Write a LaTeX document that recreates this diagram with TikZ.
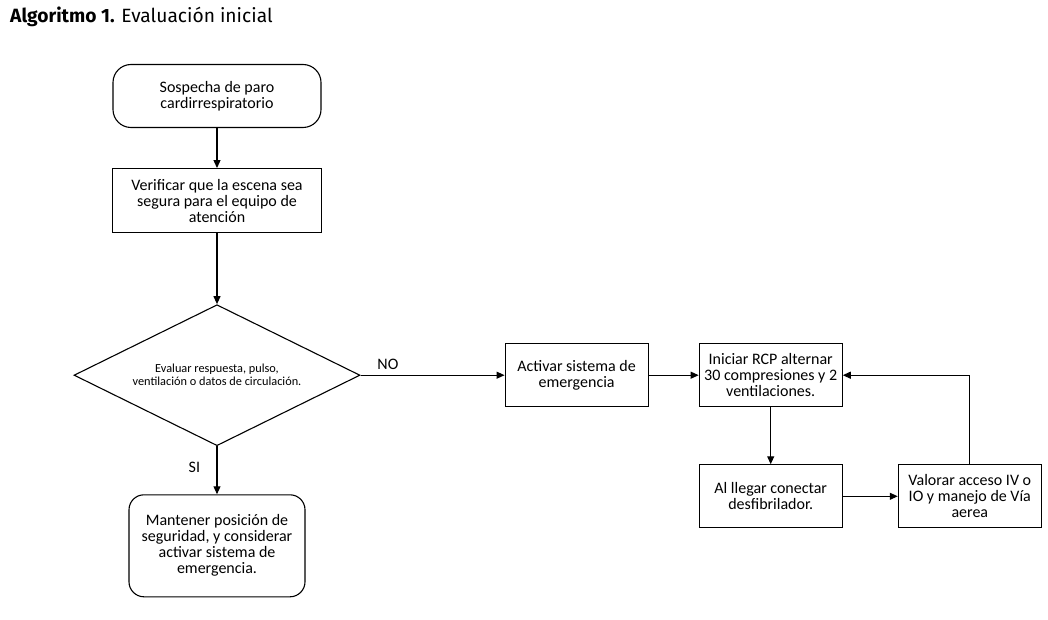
\documentclass[tikz,border=0pt]{standalone}
\usepackage{fontspec}
\setmainfont{Carlito}
\newfontfamily\titlefont{Fira Sans}
\usetikzlibrary{shapes.geometric, arrows.meta, positioning}
\tikzset{
  startbox/.style={
    draw=black,
    line width=1.1pt,
    rounded corners=18pt,
    align=center,
    font=\fontsize{16}{16}\selectfont,
    inner sep=3pt
  },
  procbox/.style={
    draw=black,
    line width=1.1pt,
    align=center,
    font=\fontsize{16}{16}\selectfont,
    inner sep=3pt
  },
  decision/.style={
    diamond,
    draw=black,
    line width=1.1pt,
    aspect=2,
    align=center,
    inner sep=0pt,
    minimum width=286pt,
    minimum height=141pt,
    font=\fontsize{12.3}{13}\selectfont
  },
  flowarrow/.style={
    -{Triangle[length=8pt, width=7pt]},
    line width=1.1pt
  },
  flowlabel/.style={
    font=\fontsize{16}{18}\selectfont
  }
}

\begin{document}
\begin{tikzpicture}[x=1pt, y=-1pt]

  \useasboundingbox (0,0) rectangle (1048,620);

  % Title
  \node (title) [anchor=west, inner sep=0pt, font=\titlefont\fontsize{19.2}{21}\selectfont] at (10,17) {\textbf{Algoritmo 1.} Evaluación inicial};

  % Main column
  \node (start) [startbox, minimum width=208pt, minimum height=63pt] at (217,96) {Sospecha de paro\\cardirrespiratorio};

  \node (verify) [procbox, minimum width=209pt, minimum height=64pt, below=40pt of start] {Verificar que la escena sea\\segura para el equipo de\\atención};

  \node (dec) [decision, below=71pt of verify] {Evaluar respuesta, pulso,\\ventilación o datos de circulación.};

  \node (safe) [startbox, rounded corners=15pt, minimum width=176pt, minimum height=102pt, below=48pt of dec] {Mantener posición de\\seguridad, y considerar\\activar sistema de\\emergencia.};

  % Right branch
  \node (alarm) [procbox, minimum width=143pt, minimum height=63pt, right=144pt of dec] {Activar sistema de\\emergencia};

  \node (cpr) [procbox, minimum width=143pt, minimum height=63pt, right=50pt of alarm] {Iniciar RCP alternar\\30 compresiones y 2\\ventilaciones.};

  \node (aed) [procbox, minimum width=143pt, minimum height=63pt, below=57pt of cpr] {Al llegar conectar\\desfibrilador.};

  \node (airway) [procbox, minimum width=143pt, minimum height=63pt, right=55pt of aed] {Valorar acceso IV o\\IO y manejo de Vía\\aerea};

  % Connectors
  \draw [flowarrow] (start) -- (verify);
  \draw [flowarrow] (verify) -- (dec);
  \draw [flowarrow] (dec.south) -- node [flowlabel, left=13pt, pos=0.45] {SI} (safe);
  \draw [flowarrow] (dec.east) -- node [flowlabel, above=2pt, pos=0.19] {NO} (alarm);
  \draw [flowarrow] (alarm) -- (cpr);
  \draw [flowarrow] (cpr) -- (aed);
  \draw [flowarrow] (aed) -- (airway);
  \draw [flowarrow] (airway.north) |- (cpr.east);

\end{tikzpicture}
\end{document}
